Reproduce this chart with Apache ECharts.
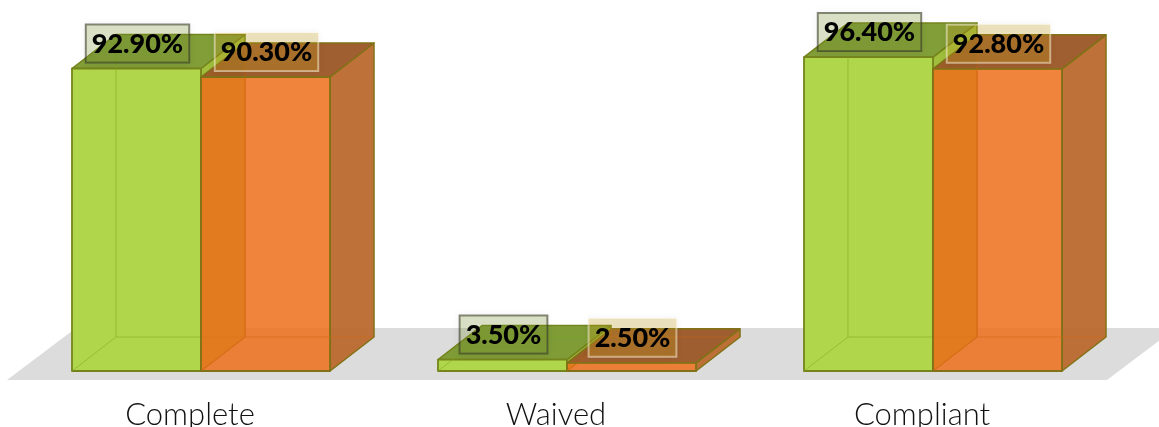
<!DOCTYPE html>
<html><head><meta charset="utf-8">
<style>html,body{margin:0;padding:0;background:#fff}#c{width:1159px;height:427px}</style>
<script src="https://cdn.jsdelivr.net/npm/echarts@6/dist/echarts.min.js"></script>
</head><body><div id="c"></div>
<script>
const categories = ['Complete', 'Waived', 'Compliant'];
const seriesA = [92.9, 3.5, 96.4];
const seriesB = [90.3, 2.5, 92.8];

const DX = 44, DY = -34, BAR = 0.3525;
const chart = echarts.init(document.getElementById('c'), null, {renderer: 'canvas'});

function poly(points, fill, stroke, lw) {
  return {type: 'polygon', shape: {points}, silent: true,
    style: {fill, stroke: stroke || 'none', lineWidth: lw || 0, lineJoin: 'round'}};
}
function line(points, stroke, lw) {
  return {type: 'polyline', shape: {points}, silent: true,
    style: {fill: 'none', stroke, lineWidth: lw}};
}
function geom(api, side) {
  const i = api.value(0), v = api.value(1);
  const c = api.coord([i, 0]), t = api.coord([i, v]);
  const w = api.size([1, 0])[0] * BAR;
  const x0 = side < 0 ? c[0] - w : c[0];
  return {x0, x1: x0 + w, y0: c[1], y1: t[1], w};
}
function bar3d(st, side) {
  return function (params, api) {
    const {x0, x1, y0, y1} = geom(api, side);
    const edge = st.edge, inner = st.inner;
    return {type: 'group', children: [
      poly([[x1,y1],[x1+DX,y1+DY],[x1+DX,y0+DY],[x1,y0]], st.right, edge, 1.5),
      poly([[x0,y1],[x1,y1],[x1+DX,y1+DY],[x0+DX,y1+DY]], st.top, edge, 1.5),
      poly([[x0,y1],[x1,y1],[x1,y0],[x0,y0]], st.front, edge, 1.8),
      line([[x0,y0],[x0+DX,y0+DY],[x1+DX,y0+DY]], inner, 1),
      line([[x0+DX,y0+DY],[x0+DX,y1+DY]], inner, 1)
    ]};
  };
}
function labelItem(st, side) {
  return function (params, api) {
    const g = geom(api, side);
    return {type: 'text', silent: true, style: {
      text: api.value(1).toFixed(2) + '%',
      x: (g.x0 + g.x1) / 2 + 1, y: g.y1 - 6,
      align: 'center', verticalAlign: 'bottom',
      font: '900 27px Lato, sans-serif', fill: '#000',
      backgroundColor: st.box, borderColor: st.boxEdge, borderWidth: 1,
      padding: [6, 6, 5, 6],
      shadowColor: 'rgba(0,0,0,0.12)', shadowBlur: 8
    }};
  };
}
const green = {front:'#b0d74b', right:'#a0be3c', top:'rgba(118,150,40,0.92)',
  edge:'#76841c', inner:'rgba(120,165,30,0.5)', box:'rgba(127,155,52,0.26)', boxEdge:'rgba(50,50,40,0.6)'};
const orange = {front:'rgba(237,110,26,0.85)', right:'rgba(186,104,44,0.94)', top:'rgba(156,88,40,0.96)',
  edge:'#807216', inner:'rgba(205,105,20,0.45)', box:'rgba(205,165,35,0.28)', boxEdge:'rgba(255,250,235,0.55)'};
const rows = a => a.map((v, i) => [i, v]);

chart.setOption({
  animation: false,
  backgroundColor: '#fff',
  grid: {left: 18, width: 1098, top: 45.4, height: 325.6, outerBoundsMode: 'none'},
  xAxis: {type: 'category', data: categories, axisLine: {show: false}, axisTick: {show: false},
    axisLabel: {fontFamily: 'Lato, sans-serif', fontWeight: 300, fontSize: 31, color: '#111', margin: 28, padding: [0, 22, 0, 0]}},
  yAxis: {type: 'value', min: 0, max: 100, show: false},
  series: [
    {type: 'custom', name: 'Floor', data: [[0, 0]], z: 1, silent: true, clip: false,
     renderItem(params, api) {
       const cs = params.coordSys, b = cs.y + cs.height;
       return poly([[cs.x-11,b+9],[cs.x+58,b-43],[cs.x+1158,b-43],[cs.x+1089,b+9]], '#dcdcdc');
     }},
    {type: 'custom', name: 'Series A', data: rows(seriesA), z: 2, clip: false, renderItem: bar3d(green, -1)},
    {type: 'custom', name: 'Series B', data: rows(seriesB), z: 3, clip: false, renderItem: bar3d(orange, 1)},
    {type: 'custom', name: 'Labels A', data: rows(seriesA), z: 5, clip: false, renderItem: labelItem(green, -1)},
    {type: 'custom', name: 'Labels B', data: rows(seriesB), z: 6, clip: false, renderItem: labelItem(orange, 1)}
  ]
});
</script></body></html>
